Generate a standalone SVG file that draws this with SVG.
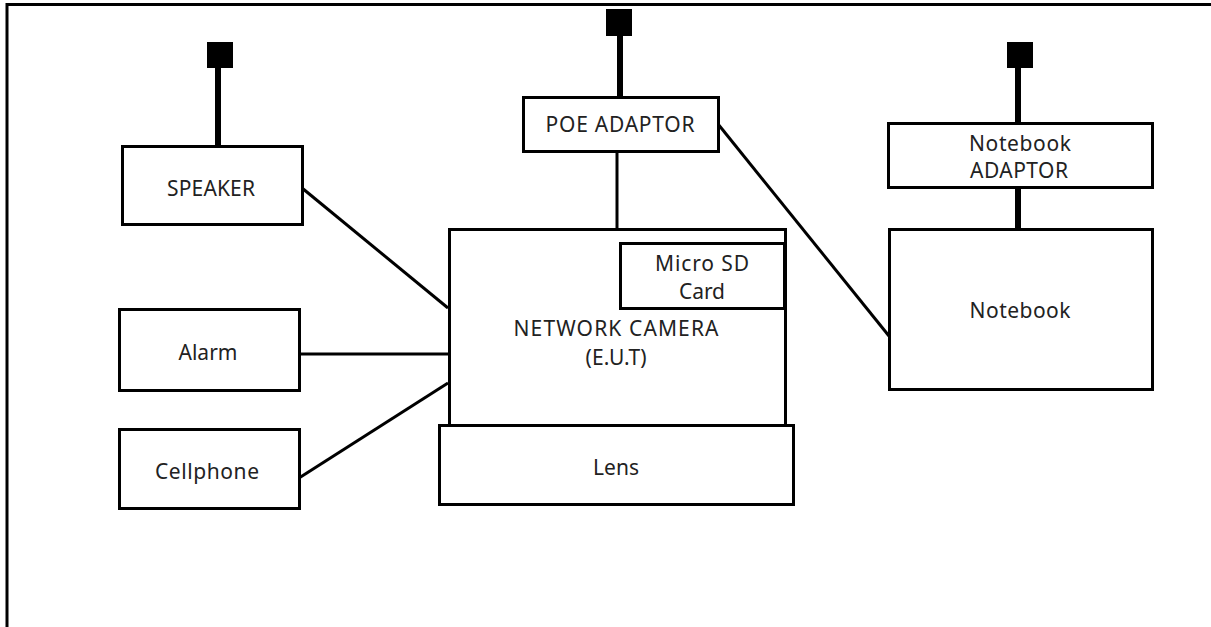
<svg xmlns="http://www.w3.org/2000/svg" width="1211" height="627" viewBox="0 0 1211 627">
<style>
.box{fill:#fff;stroke:#000;stroke-width:3}
.t{font-family:"Noto Sans","Open Sans",sans-serif;font-size:21px;fill:#222;text-anchor:middle;dominant-baseline:central}
.thin{stroke:#000;stroke-width:3;fill:none}
.thick{stroke:#000;stroke-width:6;fill:none}
.plug{fill:#000}
</style>
<rect x="0" y="0" width="1211" height="627" fill="#fff"/>
<rect x="7" y="4.5" width="1210" height="640" fill="none" stroke="#000" stroke-width="3"/>
<g id="connectors">
<line class="thick" x1="218" y1="66" x2="218" y2="146"/>
<line class="thick" x1="620" y1="34" x2="620" y2="97"/>
<line class="thick" x1="1018" y1="66" x2="1018" y2="123"/>
<line class="thick" x1="1018" y1="187" x2="1018" y2="229"/>
<line class="thin" x1="617" y1="151" x2="617" y2="229"/>
<line class="thin" x1="718" y1="124" x2="889" y2="336"/>
<line class="thin" x1="302" y1="188" x2="448" y2="308"/>
<line class="thin" x1="299" y1="354" x2="448" y2="354"/>
<line class="thin" x1="299" y1="478" x2="448" y2="383"/>
</g>
<g id="plug-speaker"><rect class="plug" x="207" y="42" width="26" height="26"/></g>
<g id="plug-poe"><rect class="plug" x="606" y="9" width="26" height="27"/></g>
<g id="plug-notebook"><rect class="plug" x="1007" y="42" width="26" height="26"/></g>
<g id="speaker"><rect class="box" x="122.5" y="146.5" width="180" height="78"/><text class="t" x="211" y="188" textLength="88" lengthAdjust="spacing">SPEAKER</text></g>
<g id="poe-adaptor"><rect class="box" x="523.5" y="97.5" width="195" height="54"/><text class="t" x="620" y="124" textLength="149" lengthAdjust="spacing">POE ADAPTOR</text></g>
<g id="notebook-adaptor"><rect class="box" x="888.5" y="123.5" width="264" height="64"/><text class="t" x="1020" y="143" textLength="102" lengthAdjust="spacing">Notebook</text><text class="t" x="1019" y="170" textLength="98" lengthAdjust="spacing">ADAPTOR</text></g>
<g id="notebook"><rect class="box" x="889.5" y="229.5" width="263" height="160"/><text class="t" x="1020" y="310" textLength="101" lengthAdjust="spacing">Notebook</text></g>
<g id="network-camera"><rect class="box" x="449.5" y="229.5" width="336" height="196"/><text class="t" x="616" y="328" textLength="205" lengthAdjust="spacing">NETWORK CAMERA</text><text class="t" x="616" y="357" textLength="61" lengthAdjust="spacing">(E.U.T)</text></g>
<g id="micro-sd"><rect class="box" x="620.5" y="243.5" width="164" height="65"/><text class="t" x="702" y="263" textLength="94" lengthAdjust="spacing">Micro SD</text><text class="t" x="702" y="291" textLength="46" lengthAdjust="spacing">Card</text></g>
<g id="lens"><rect class="box" x="439.5" y="425.5" width="354" height="79"/><text class="t" x="616" y="467" textLength="46" lengthAdjust="spacing">Lens</text></g>
<g id="alarm"><rect class="box" x="119.5" y="309.5" width="180" height="81"/><text class="t" x="208" y="352" textLength="59" lengthAdjust="spacing">Alarm</text></g>
<g id="cellphone"><rect class="box" x="119.5" y="429.5" width="180" height="79"/><text class="t" x="207" y="471" textLength="104" lengthAdjust="spacing">Cellphone</text></g>
</svg>
